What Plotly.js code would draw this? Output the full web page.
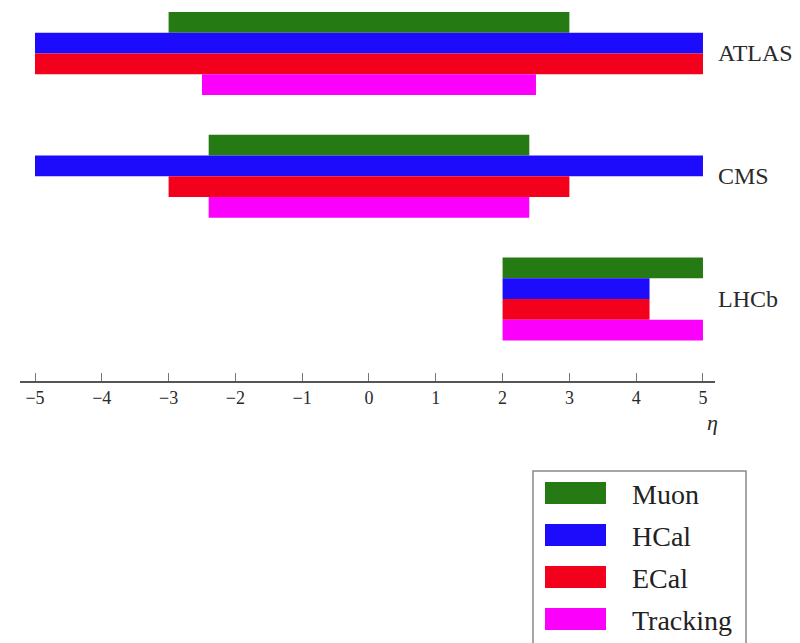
<!DOCTYPE html>
<html>
<head>
<meta charset="utf-8">
<script src="https://cdn.plot.ly/plotly-3.0.1.min.js"></script>
<style>
  html, body { margin: 0; padding: 0; background: #fff; }
  #chart { width: 800px; height: 643px; }
</style>
</head>
<body>
<div id="chart"></div>
<script>
// Pseudorapidity coverage of the LHC experiments' sub-detectors
const experiments = ['ATLAS', 'CMS', 'LHCb'];
const subsystems = ['Muon', 'HCal', 'ECal', 'Tracking'];
const colors = ['#257a14', '#1c0cfb', '#f2001c', '#fb00fb'];

// eta range [from, to] per subsystem, listed in experiment order
const etaMin = {
  Muon:     [-3.0, -2.4, 2.0],
  HCal:     [-5.0, -5.0, 2.0],
  ECal:     [-5.0, -3.0, 2.0],
  Tracking: [-2.5, -2.4, 2.0]
};
const etaMax = {
  Muon:     [3.0, 2.4, 5.0],
  HCal:     [5.0, 5.0, 4.2],
  ECal:     [5.0, 3.0, 4.2],
  Tracking: [2.5, 2.4, 5.0]
};
const etaTicks = [-5, -4, -3, -2, -1, 0, 1, 2, 3, 4, 5];

const serif = "'Liberation Serif', 'DejaVu Serif', serif";

const traces = subsystems.map((name, i) => ({
  type: 'bar',
  orientation: 'h',
  name: name,
  y: experiments,
  base: etaMin[name],
  x: etaMax[name].map((v, k) => v - etaMin[name][k]),
  marker: { color: colors[i], line: { width: 0 } },
  hoverinfo: 'skip',
  showlegend: false
}));

// plot-area geometry (pixels) used to place the hand-drawn legend box
const M = { l: 20, r: 85, t: 0, b: 262 };
const W = 800 - M.l - M.r, H = 643 - M.t - M.b;
const px = x => (x - M.l) / W;
const py = y => (M.t + H - y) / H;

const shapes = [];
const annotations = [];

// experiment labels to the right of each bar group
experiments.forEach(e => annotations.push({
  xref: 'paper', yref: 'y', x: 1, y: e, xanchor: 'left', yanchor: 'middle',
  xshift: 1, text: e, showarrow: false,
  font: { family: serif, size: 24, color: '#2a2a2a' }
}));

// axis title
annotations.push({
  xref: 'paper', yref: 'paper', x: px(712), y: py(422),
  xanchor: 'center', yanchor: 'middle', text: '<i>η</i>', showarrow: false,
  font: { family: serif, size: 22, color: '#2a2a2a' }
});

// legend frame
shapes.push({
  type: 'rect', xref: 'paper', yref: 'paper',
  x0: px(533), x1: px(746), y0: py(471), y1: py(660),
  line: { color: '#888', width: 1.5 }, fillcolor: 'rgba(0,0,0,0)'
});
subsystems.forEach((name, i) => {
  const cy = 493 + 42 * i;
  shapes.push({
    type: 'rect', xref: 'paper', yref: 'paper',
    x0: px(545), x1: px(606), y0: py(cy - 11), y1: py(cy + 11),
    line: { width: 0 }, fillcolor: colors[i]
  });
  annotations.push({
    xref: 'paper', yref: 'paper', x: px(630), y: py(cy + 1),
    xanchor: 'left', yanchor: 'middle', text: name, showarrow: false,
    font: { family: serif, size: 28, color: '#222' }
  });
});

const layout = {
  width: 800, height: 643,
  margin: M,
  paper_bgcolor: '#fff', plot_bgcolor: '#fff',
  barmode: 'group', bargap: 0.325, bargroupgap: 0,
  showlegend: false,
  xaxis: {
    range: [-5.2246, 5.18],
    tickvals: etaTicks,
    ticktext: etaTicks.map(v => v < 0 ? '\u2212' + Math.abs(v) : String(v)),
    ticks: 'inside', ticklen: 8, tickwidth: 1, tickcolor: '#777',
    showline: true, linecolor: '#555', linewidth: 1.5,
    showgrid: false, zeroline: false,
    tickfont: { family: serif, size: 18, color: '#2a2a2a' }
  },
  yaxis: {
    type: 'category',
    range: [2.667, -0.435],
    showticklabels: false, ticks: '',
    showline: false, showgrid: false, zeroline: false
  },
  shapes: shapes,
  annotations: annotations
};

Plotly.newPlot('chart', traces, layout, { displayModeBar: false, staticPlot: true });
</script>
</body>
</html>
